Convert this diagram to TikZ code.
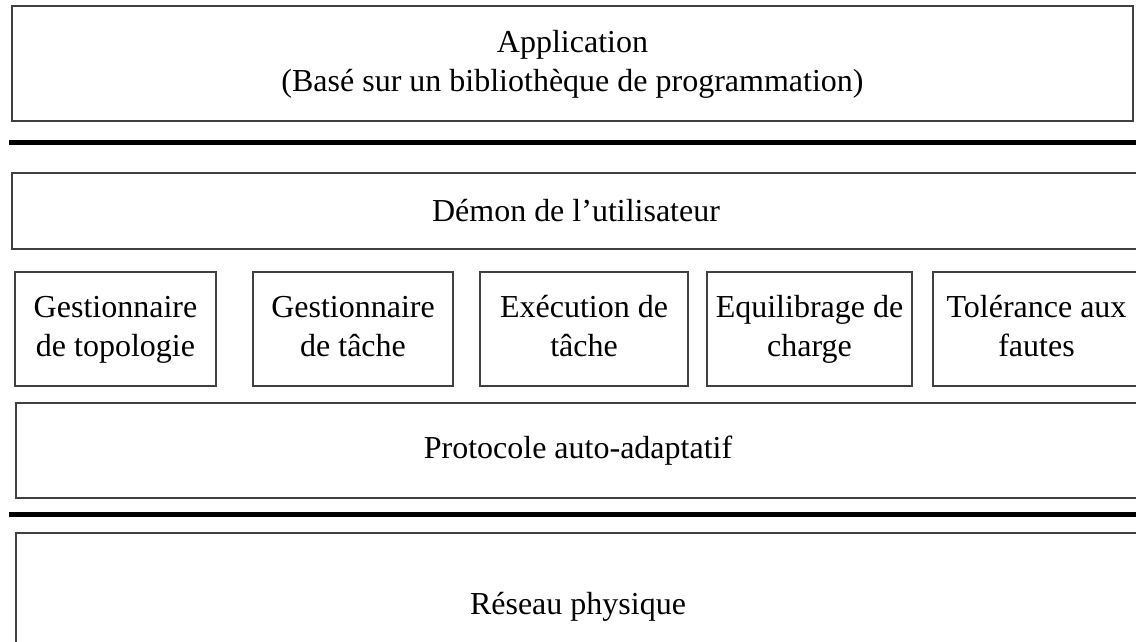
\documentclass[tikz,border=0pt]{standalone}
\usepackage{fontspec}
\setmainfont{Liberation Serif}
\usetikzlibrary{positioning}
\tikzset{
  couche/.style={draw=black!75, line width=1pt, inner sep=0pt, align=center, font=\fontsize{16}{19.5}\selectfont},
  separation/.style={line width=2.5pt, black}
}

\begin{document}
\begin{tikzpicture}[x=0.5pt, y=-0.5pt]
\useasboundingbox (0,0) rectangle (1136,642);
\clip (0,0) rectangle (1136,642);
\node[couche, minimum width=560.5pt, minimum height=57.5pt] (A) at (572.5,64) {\strut Application\\\strut (Basé sur un bibliothèque de programmation)};
\coordinate (S1g) at (9,143);
\coordinate (S1d) at (1140,143);
\draw[separation] (S1g) -- (S1d);
\node[couche, minimum width=564pt, minimum height=38pt] (D) at (576,211) {Démon de l’utilisateur};
\foreach \x/\w/\n/\t in {115.5/100.5/G1/{\strut Gestionnaire\\\strut de topologie},353/100/G2/{\strut Gestionnaire\\\strut de tâche},584/104/E1/{\strut Exécution de\\\strut tâche},809.5/102.5/E2/{\strut Equilibrage de\\\strut charge},1036.5/103.5/T1/{\strut Tolérance aux\\\strut fautes}} {
  \node[couche, minimum width=\w pt, minimum height=57pt] (\n) at (\x,329) {\t};
}
\node[couche, minimum width=562pt, minimum height=47.5pt] (P) at (578,450.5) {Protocole auto-adaptatif};
\coordinate (S2g) at (9,514);
\coordinate (S2d) at (1140,514);
\draw[separation] (S2g) -- (S2d);
\node[couche, minimum width=562pt, minimum height=73.5pt] (R) at (578,606.5) {\strut Réseau physique};
\end{tikzpicture}
\end{document}
